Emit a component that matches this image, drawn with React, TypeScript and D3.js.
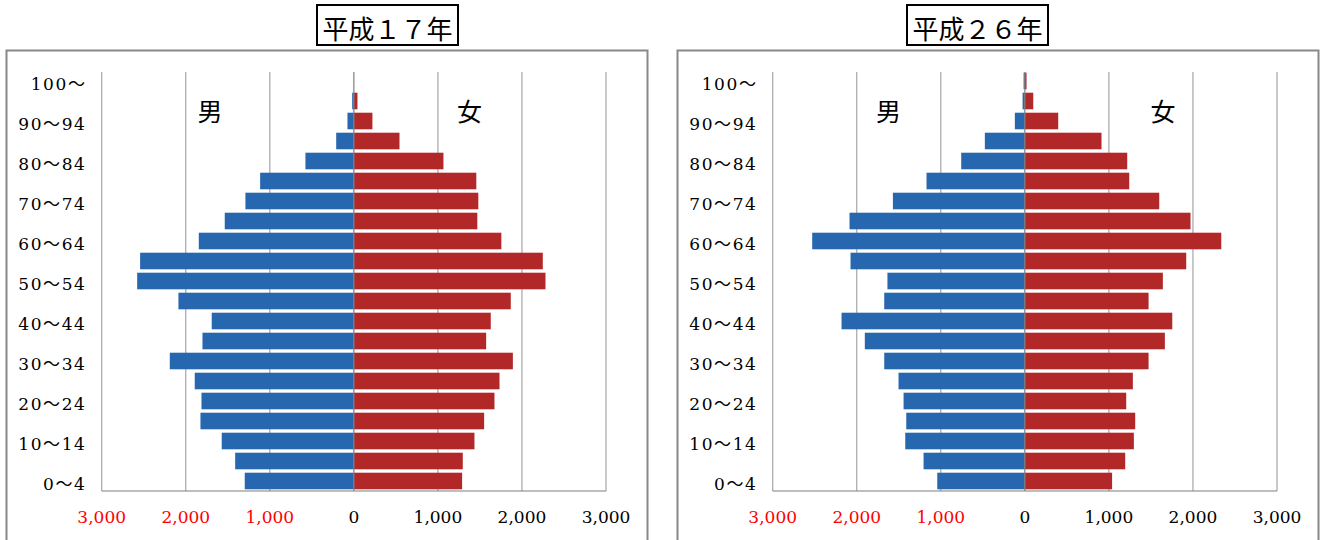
import React from 'react';
import * as d3 from 'd3';

// age groups, bottom (youngest) to top
const ageGroups = [
  '0～4', '5～9', '10～14', '15～19', '20～24', '25～29', '30～34', '35～39', '40～44', '45～49',
  '50～54', '55～59', '60～64', '65～69', '70～74', '75～79', '80～84', '85～89', '90～94', '95～99', '100～',
];

const maleH17 = [1298, 1412, 1572, 1825, 1813, 1893, 2190, 1801, 1691, 2087, 2578, 2543, 1845, 1536, 1290, 1115, 576, 210, 76, 20, 0];
const femaleH17 = [1288, 1296, 1435, 1550, 1673, 1733, 1892, 1574, 1629, 1867, 2280, 2248, 1755, 1469, 1481, 1457, 1066, 543, 221, 43, 0];

const maleH26 = [1042, 1205, 1423, 1411, 1443, 1503, 1673, 1904, 2181, 1673, 1635, 2074, 2530, 2086, 1570, 1170, 757, 476, 119, 27, 15];
const femaleH26 = [1038, 1194, 1297, 1313, 1206, 1285, 1472, 1666, 1754, 1472, 1642, 1920, 2337, 1971, 1599, 1242, 1218, 912, 397, 100, 20];

const tickValues = [-3000, -2000, -1000, 0, 1000, 2000, 3000];

const BLUE = '#2767b0';
const RED = '#b22828';
const SERIF = '"DejaVu Serif", "Liberation Serif", "Noto Sans CJK JP", serif';
const JP = '"Noto Sans CJK JP", sans-serif';

interface PyramidProps {
  dx: number;
  title: string;
  titleX: number;
  male: number[];
  female: number[];
  maleLabelX: number;
  femaleLabelX: number;
}

const Pyramid: React.FC<PyramidProps> = ({ dx, title, titleX, male, female, maleLabelX, femaleLabelX }) => {
  const x = d3.scaleLinear().domain([-3000, 3000]).range([101.7, 606]);
  const y = d3.scaleBand<string>().domain(ageGroups).range([491, 71]).paddingInner(0.17).paddingOuter(0.085);
  const fmt = d3.format(',');
  const bw = y.bandwidth();

  return (
    <g>
      {/* title box */}
      <rect x={titleX - 70.5} y={5} width={141} height={40} fill="white" stroke="black" strokeWidth={2} />
      <text x={titleX} y={27.5} textAnchor="middle" dominantBaseline="central" fontFamily={JP} fontSize={26}>{title}</text>

      <g transform={`translate(${dx},0)`}>
        {/* frame */}
        <rect x={6.5} y={50.5} width={641} height={500} fill="none" stroke="#888" strokeWidth={2} />

        {/* gridlines */}
        {tickValues.filter(t => t !== 0).map(t => (
          <line key={t} x1={x(t)} x2={x(t)} y1={72} y2={491} stroke="#a6a6a6" strokeWidth={1.2} />
        ))}

        {/* bars */}
        {ageGroups.map((g, i) => (
          <rect key={'m' + g} x={x(-male[i])} y={y(g)} width={x(0) - x(-male[i])} height={bw} fill={BLUE} />
        ))}
        {ageGroups.map((g, i) => (
          <rect key={'f' + g} x={x(0)} y={y(g)} width={x(female[i]) - x(0)} height={bw} fill={RED} />
        ))}

        {/* zero line and bottom axis */}
        <line x1={x(0)} x2={x(0)} y1={72} y2={491} stroke="#7f7f7f" strokeWidth={1.2} />
        <line x1={x(-3000)} x2={x(3000)} y1={491} y2={491} stroke="#7f7f7f" strokeWidth={1.2} />

        {/* age labels (every other) */}
        {ageGroups.map((g, i) => i % 2 === 0 ? (
          <text key={'l' + g} x={86.5} y={(y(g) as number) + bw / 2} dy="0.5em" textAnchor="end"
            fontFamily={SERIF} fontSize={17} letterSpacing={1.6} fill="black">{g}</text>
        ) : null)}

        {/* value ticks */}
        {tickValues.map(t => (
          <text key={'t' + t} x={x(t)} y={523} textAnchor="middle" fontFamily={SERIF} fontSize={17}
            fill={t < 0 ? '#ff0000' : 'black'}>{fmt(Math.abs(t))}</text>
        ))}

        <text x={maleLabelX} y={110} textAnchor="middle" dominantBaseline="central" fontFamily={JP} fontSize={25}>男</text>
        <text x={femaleLabelX} y={110} textAnchor="middle" dominantBaseline="central" fontFamily={JP} fontSize={25}>女</text>
      </g>
    </g>
  );
};

export default function App() {
  return (
    <svg width={1322} height={540} style={{ position: 'absolute', left: 0, top: 0, background: 'white' }}>
      <rect width={1322} height={540} fill="white" />
      <Pyramid dx={0} title="平成１７年" titleX={387.5} male={maleH17} female={femaleH17} maleLabelX={210} femaleLabelX={469.5} />
      <Pyramid dx={671} title="平成２６年" titleX={977.5} male={maleH26} female={femaleH26} maleLabelX={217.5} femaleLabelX={492} />
    </svg>
  );
}
